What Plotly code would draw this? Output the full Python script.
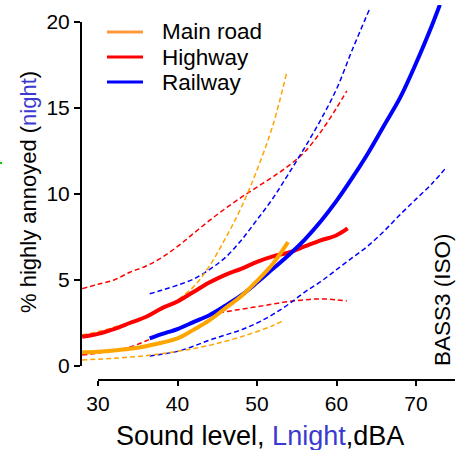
import plotly.graph_objects as go

# ---- data ----
road_x = [28, 30, 32, 34, 36, 38, 40, 42, 44, 46, 48, 50, 52, 53.9]
road_y = [0.8, 0.83, 0.9, 1.0, 1.15, 1.35, 1.6, 2.1, 2.65, 3.35, 4.05, 4.95, 5.95, 7.2]
road_up_x = [28, 30, 32, 34, 36, 38, 40, 42, 44, 46, 48, 50, 52, 53.7]
road_up_y = [1.8, 2.0, 2.25, 2.55, 2.9, 3.3, 3.85, 4.6, 5.8, 7.4, 9.2, 11.4, 14.0, 17.0]
road_lo_x = [28, 32, 36, 40, 44, 48, 52, 53.5]
road_lo_y = [0.35, 0.45, 0.6, 0.85, 1.2, 1.7, 2.35, 2.7]

hw_x = [28, 30, 32, 34, 36, 38, 40, 42, 44, 46, 48, 50, 52, 54, 56, 58, 60, 61.4]
hw_y = [1.7, 1.87, 2.15, 2.5, 2.85, 3.35, 3.75, 4.3, 4.85, 5.3, 5.65, 6.05, 6.37, 6.6, 6.95, 7.3, 7.6, 8.0]
hw_up_x = [28, 30, 32, 34, 36, 38, 40, 42, 44, 46, 48, 50, 52, 54, 56, 58, 60, 61.3]
hw_up_y = [4.5, 4.75, 5.0, 5.45, 5.8, 6.3, 6.95, 7.7, 8.45, 9.15, 9.8, 10.4, 11.0, 11.65, 12.45, 13.6, 15.0, 16.0]
hw_lo_x = [28, 30, 32, 34, 36, 38, 40, 42, 44, 46, 48, 50, 52, 54, 56, 58, 60, 61.3]
hw_lo_y = [0.64, 0.75, 0.9, 1.1, 1.45, 1.85, 2.2, 2.6, 2.95, 3.15, 3.3, 3.45, 3.6, 3.75, 3.85, 3.9, 3.85, 3.78]

rail_x = [36.5, 38, 40, 42, 44, 46, 48, 50, 52, 54, 56, 58, 60, 62, 64, 66, 68, 70, 72, 73]
rail_y = [1.6, 1.85, 2.15, 2.55, 2.95, 3.5, 4.1, 4.85, 5.65, 6.45, 7.35, 8.4, 9.6, 10.95, 12.4, 14.0, 15.6, 17.6, 19.8, 21.0]
rail_up_x = [36.5, 38, 40, 42, 44, 46, 48, 50, 52, 54, 56, 58, 60, 62, 64.2]
rail_up_y = [4.2, 4.4, 4.7, 5.05, 5.6, 6.3, 7.3, 8.5, 9.75, 11.2, 12.7, 14.3, 16.1, 18.4, 20.8]
rail_lo_x = [36.5, 38, 40, 42, 44, 46, 48, 50, 52, 54, 56, 58, 60, 62, 64, 66, 68, 70, 72, 73.9]
rail_lo_y = [0.58, 0.68, 0.85, 1.15, 1.5, 1.8, 2.1, 2.5, 3.0, 3.6, 4.3, 4.9, 5.6, 6.3, 7.0, 7.85, 8.8, 9.7, 10.6, 11.6]

x_ticks = [30, 40, 50, 60, 70]
y_ticks = [0, 5, 10, 15, 20]
legend_names = ["Main road", "Highway", "Railway"]
legend_colors = ["#FF9A3C", "#FF0000", "#0000FF"]

ORANGE = "#FFA500"
RED = "#FF0000"
BLUE = "#0000FF"
FONT = "Arial, Liberation Sans, sans-serif"

fig = go.Figure()

def dashed(x, y, c):
    fig.add_trace(go.Scatter(x=x, y=y, mode="lines", line=dict(color=c, width=1.5, dash="5px,3px", shape="spline"),
                             showlegend=False, hoverinfo="skip"))

def solid(x, y, c):
    fig.add_trace(go.Scatter(x=x, y=y, mode="lines", line=dict(color=c, width=4, shape="spline"),
                             showlegend=False, hoverinfo="skip"))

dashed(hw_up_x, hw_up_y, RED)
dashed(hw_lo_x, hw_lo_y, RED)
dashed(rail_up_x, rail_up_y, BLUE)
dashed(rail_lo_x, rail_lo_y, BLUE)
dashed(road_up_x, road_up_y, ORANGE)
dashed(road_lo_x, road_lo_y, ORANGE)
solid(hw_x, hw_y, RED)
solid(rail_x, rail_y, BLUE)
solid(road_x, road_y, ORANGE)

W, H = 457, 450
L, R, T, B = 81, 2, 5, 70
pw, ph = W - L - R, H - T - B
xmin, xmax = 27.86, 27.86 + pw / 7.95
ymin = -(380 - 366) / 17.2
ymax = ymin + ph / 17.2

def px(xp):
    return (xp - L) / pw

def py(yp):
    return (H - B - yp) / ph

shapes = [
    dict(type="line", xref="paper", yref="y", x0=0, x1=0, y0=0, y1=20, line=dict(color="black", width=2)),
    dict(type="line", xref="x", yref="paper", x0=30, x1=xmax, y0=0, y1=0, line=dict(color="black", width=2)),
    dict(type="line", xref="paper", yref="paper", x0=px(0), x1=px(2), y0=py(163), y1=py(163),
         line=dict(color="#00CC00", width=2)),
]
annotations = []
for i, (n, c) in enumerate(zip(legend_names, legend_colors)):
    yy = 32 + 25 * i
    shapes.append(dict(type="line", xref="paper", yref="paper", x0=px(107), x1=px(143), y0=py(yy), y1=py(yy),
                       line=dict(color=c, width=3)))
    annotations.append(dict(xref="paper", yref="paper", x=px(160), y=py(yy), text=n, showarrow=False,
                            xanchor="left", yanchor="middle", font=dict(family=FONT, size=22.5, color="black")))

annotations += [
    dict(xref="paper", yref="paper", x=px(260), y=py(436),
         text='Sound level, <span style="color:#3A3AD0">Lnight</span>,dBA', showarrow=False,
         xanchor="center", yanchor="middle", font=dict(family=FONT, size=27, color="black")),
    dict(xref="paper", yref="paper", x=px(28), y=py(192),
         text='% highly annoyed (<span style="color:#3A3AD0">night</span>)', showarrow=False, textangle=-90,
         xanchor="center", yanchor="middle", font=dict(family=FONT, size=22, color="black")),
    dict(xref="paper", yref="paper", x=px(442), y=py(300), text="BASS3 (ISO)", showarrow=False, textangle=-90,
         xanchor="center", yanchor="middle", font=dict(family=FONT, size=22.5, color="black")),
]

fig.update_layout(
    width=W, height=H, margin=dict(l=L, r=R, t=T, b=B),
    paper_bgcolor="white", plot_bgcolor="white",
    showlegend=False, shapes=shapes, annotations=annotations,
    xaxis=dict(range=[xmin, xmax], tickvals=x_ticks, ticks="outside", ticklen=5, tickwidth=2, tickcolor="black",
               showgrid=False, zeroline=False, showline=False,
               tickfont=dict(family=FONT, size=21, color="black")),
    yaxis=dict(range=[ymin, ymax], tickvals=y_ticks, ticks="outside", ticklen=6, tickwidth=2, tickcolor="black",
               showgrid=False, zeroline=False, showline=False,
               tickfont=dict(family=FONT, size=21, color="black")),
)
fig.write_html("out.html", config={"displayModeBar": False},
               post_script="document.body.style.margin='0';document.body.style.overflow='hidden';")
